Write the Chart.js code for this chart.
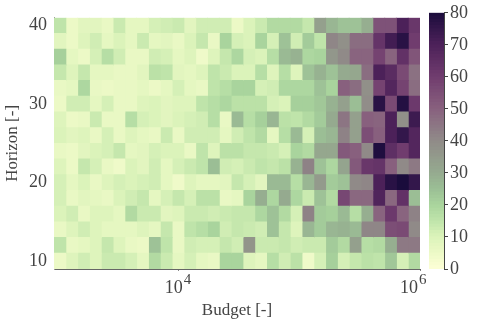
<!DOCTYPE html>
<html>
<head>
<meta charset="utf-8">
<style>
  html, body { margin: 0; padding: 0; background: #fff; }
  #wrap { position: relative; width: 480px; height: 320px; }
  canvas { position: absolute; top: 0; }
</style>
<script src="https://cdn.jsdelivr.net/npm/chart.js@4"></script>
</head>
<body>
<div id="wrap">
  <canvas id="heat" width="480" height="320" style="left:0"></canvas>
  <canvas id="bar" width="60" height="320" style="left:420px"></canvas>
</div>
<script>
// Budget bin edges (31 cells on a log axis)
const budgetEdges = [925, 1159, 1452, 1819, 2277, 2852, 3573, 4477, 5610, 7027, 8805, 11030, 13815, 17308, 21680, 27164,
  34033, 42638, 53420, 66926, 83850, 105050, 131610, 164900, 206540, 258760, 324200, 406170, 508880, 637560, 798760, 1000000];
const horizons = [40, 38, 36, 34, 32, 30, 28, 26, 24, 22, 20, 18, 16, 14, 12, 10];
const budgetTicks = [1e4, 1e6];
const budgetExp = ['4', '6'];
const barTicks = [0, 10, 20, 30, 40, 50, 60, 70, 80];

// Values, one list per horizon
const h40 = [15,5,8,8,6,13,7,7,11,12,13,8,12,12,12,5,10,13,18,18,18,14,33,27,24,24,29,54,54,70,62];
const h38 = [8,5,9,12,7,10,7,13,7,8,6,10,14,6,20,11,10,20,11,24,12,22,15,41,38,47,47,63,72,77,60];
const h36 = [21,7,5,11,17,12,6,6,12,11,7,9,4,9,14,19,11,10,17,26,28,19,20,36,40,49,49,58,49,64,53];
const h34 = [14,9,14,7,7,6,6,8,16,15,8,7,9,15,13,10,10,17,9,17,9,24,28,24,30,31,47,70,66,56,46];
const h32 = [6,7,19,6,5,6,6,7,5,7,11,7,6,15,17,20,20,11,12,19,19,19,24,20,50,47,38,58,68,58,47];
const h30 = [5,12,12,7,11,6,6,9,10,8,9,9,15,17,19,16,16,16,11,10,21,21,23,28,33,25,39,77,56,78,61];
const h28 = [9,5,6,13,6,6,17,11,10,8,10,11,12,17,6,26,17,21,27,16,15,18,22,30,45,33,50,49,70,38,73];
const h26 = [10,8,9,6,11,6,9,7,6,13,6,12,12,12,7,12,15,18,7,17,26,11,25,27,42,33,55,50,70,75,68];
const h24 = [6,5,8,10,11,14,7,8,11,10,10,6,15,9,16,16,14,14,13,11,20,18,31,31,52,50,40,79,65,60,68];
const h22 = [9,5,14,11,6,4,10,8,12,7,11,13,15,25,12,11,13,15,14,16,28,42,24,19,32,52,62,63,50,40,44];
const h20 = [11,7,10,6,9,11,10,11,12,7,4,9,7,7,8,14,11,8,26,26,17,27,35,22,24,40,41,70,77,80,75];
const h18 = [11,6,8,7,6,10,12,14,7,11,14,11,16,16,6,7,20,29,19,30,19,13,24,18,57,48,48,69,48,64,25];
const h16 = [10,12,6,9,9,7,18,13,13,8,9,13,13,12,13,14,14,19,24,18,11,42,22,21,26,17,29,49,61,49,42];
const h14 = [6,9,12,9,7,7,7,9,7,14,6,15,17,20,12,14,13,12,24,14,9,27,22,27,28,26,41,41,55,56,40];
const h12 = [15,6,7,9,14,9,6,5,24,15,6,12,11,11,14,12,37,13,13,14,12,13,13,22,18,33,17,18,29,44,44];
const h10 = [5,9,12,9,13,13,11,7,18,13,7,11,7,6,20,20,9,7,17,12,16,4,11,21,11,14,16,15,23,11,18];
const rows = [h40, h38, h36, h34, h32, h30, h28, h26, h24, h22, h20, h18, h16, h14, h12, h10];

// Colormap stops [value, r, g, b]
const cmapStops = [
  [0, 253, 254, 214], [5, 236, 249, 198], [10, 219, 243, 186], [15, 191, 228, 170],
  [20, 169, 212, 157], [25, 155, 190, 149], [30, 149, 170, 143], [40, 144, 138, 136],
  [50, 136, 96, 126], [60, 112, 60, 110], [70, 76, 33, 89], [80, 26, 12, 60]
];

const inkColor = '#444';
const serif = '"Liberation Serif", serif';

function colorFor(v) {
  for (let i = 1; i < cmapStops.length; i++) {
    const a = cmapStops[i - 1], b = cmapStops[i];
    if (v <= b[0]) {
      const t = (v - a[0]) / (b[0] - a[0]);
      const c = [1, 2, 3].map(k => Math.round(a[k] + (b[k] - a[k]) * t));
      return `rgb(${c[0]},${c[1]},${c[2]})`;
    }
  }
  return 'rgb(26,12,60)';
}

// one dataset per budget column, every cell is a floating bar
const heatSets = budgetEdges.slice(0, -1).map((lo, col) => ({
  data: rows.map(() => [lo, budgetEdges[col + 1]]),
  backgroundColor: rows.map(r => colorFor(r[col])),
  borderWidth: 0,
  inflateAmount: 0.5,
  barPercentage: 1,
  categoryPercentage: 1
}));

// log tick labels with a raised exponent, kept inside the figure on the right
const expLabels = {
  id: 'expLabels',
  afterDraw(chart) {
    const { ctx, scales } = chart;
    ctx.save();
    ctx.fillStyle = inkColor;
    ctx.textBaseline = 'alphabetic';
    budgetTicks.forEach((t, i) => {
      const right = Math.min(scales.x.getPixelForValue(t) + 12, 426);
      ctx.font = `18px ${serif}`;
      ctx.textAlign = 'right';
      ctx.fillText('10', right - 8, 293);
      ctx.font = `15px ${serif}`;
      ctx.textAlign = 'left';
      ctx.fillText(budgetExp[i], right - 7, 284);
    });
    ctx.restore();
  }
};

new Chart(document.getElementById('heat'), {
  type: 'bar',
  data: { labels: horizons, datasets: heatSets },
  plugins: [expLabels],
  options: {
    indexAxis: 'y',
    responsive: false,
    animation: false,
    grouped: false,
    layout: { padding: { top: 12, right: 60, left: 0, bottom: 0 } },
    plugins: { legend: { display: false }, tooltip: { enabled: false } },
    scales: {
      x: {
        type: 'logarithmic',
        min: budgetEdges[0],
        max: budgetEdges[budgetEdges.length - 1],
        afterBuildTicks: s => { s.ticks = budgetTicks.map(v => ({ value: v, major: true })); },
        afterFit: s => { s.height = 51; },
        grid: { drawOnChartArea: false, tickLength: 2, color: '#888' },
        border: { color: '#666' },
        ticks: { callback: () => '', maxRotation: 0 },
        title: { display: true, text: 'Budget [-]', color: inkColor, font: { family: serif, size: 17 }, padding: { top: 0, bottom: -1 } }
      },
      y: {
        type: 'category',
        afterFit: s => { s.width = 54; },
        grid: { display: false, drawTicks: false },
        border: { color: '#999' },
        ticks: {
          autoSkip: false,
          padding: 7,
          color: inkColor,
          font: { family: serif, size: 18 },
          callback(v) {
            const h = this.getLabelForValue(v);
            return h % 10 === 0 ? String(h) : '';
          }
        },
        title: { display: true, text: 'Horizon [-]', color: inkColor, font: { family: serif, size: 17 }, padding: { top: 2, bottom: 0 } }
      }
    }
  }
});

// colorbar, 80 thin bars on its own value axis
const barLevels = [];
for (let v = 0; v < 80; v++) barLevels.push(v);

new Chart(document.getElementById('bar'), {
  type: 'bar',
  data: {
    labels: ['cb'],
    datasets: barLevels.map(v => ({
      data: [[v, v + 1]],
      backgroundColor: colorFor(v + 0.5),
      borderWidth: 0,
      inflateAmount: 0.5,
      barPercentage: 1,
      categoryPercentage: 1
    }))
  },
  options: {
    responsive: false,
    animation: false,
    grouped: false,
    layout: { padding: { top: 12, left: 9, right: 0, bottom: 51 } },
    plugins: { legend: { display: false }, tooltip: { enabled: false } },
    scales: {
      x: { display: false },
      y: {
        position: 'right',
        min: 0,
        max: 80,
        afterBuildTicks: s => { s.ticks = barTicks.map(v => ({ value: v })); },
        afterFit: s => { s.width = 36; },
        grid: { drawOnChartArea: false, tickLength: 4, color: '#444' },
        border: { color: '#444' },
        ticks: { padding: 2, color: inkColor, font: { family: serif, size: 18 } }
      }
    }
  }
});
</script>
</body>
</html>
